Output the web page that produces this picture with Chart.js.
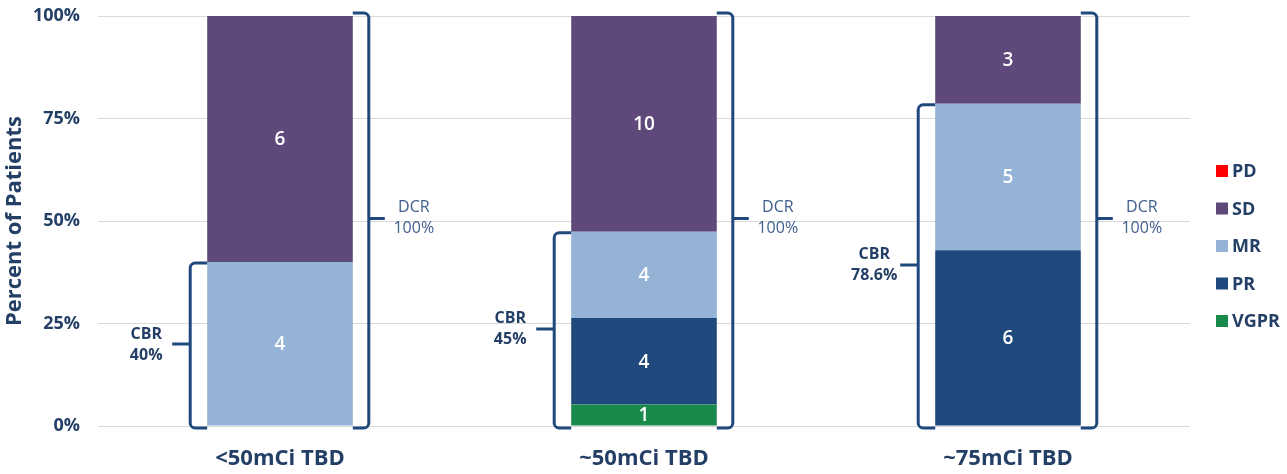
<!DOCTYPE html>
<html>
<head>
<meta charset="utf-8">
<script src="https://cdn.jsdelivr.net/npm/chart.js@4/dist/chart.umd.min.js"></script>
<style>
  html, body { margin: 0; padding: 0; background: #ffffff; }
  #c { display: block; }
</style>
</head>
<body>
<canvas id="c" width="1287" height="474"></canvas>
<script>
// Patient counts by response category for each dose group
const categories = ['<50mCi TBD', '~50mCi TBD', '~75mCi TBD'];
const vgpr = [0, 1, 0];
const pr   = [0, 4, 6];
const mr   = [4, 4, 5];
const sd   = [6, 10, 3];
const pd   = [0, 0, 0];

// Bracket annotations
const cbrText = ['40%', '45%', '78.6%'];
const dcrText = ['100%', '100%', '100%'];

// Percentage axis ticks
const yTicks = [0, 25, 50, 75, 100];

const totals = categories.map((_, i) => vgpr[i] + pr[i] + mr[i] + sd[i] + pd[i]);
const pct = arr => arr.map((v, i) => v / totals[i] * 100);

const INK = '#243f66';
const BRACE = '#1f497d';
const FONT = '"Open Sans", "DejaVu Sans", sans-serif';

const series = [
  { label: 'VGPR', counts: vgpr, color: '#1a8a4c' },
  { label: 'PR',   counts: pr,   color: '#1f497d' },
  { label: 'MR',   counts: mr,   color: '#95b3d7' },
  { label: 'SD',   counts: sd,   color: '#5f497a' },
  { label: 'PD',   counts: pd,   color: '#ff0000' }
];

// Count labels inside each segment
const segmentLabels = {
  id: 'segmentLabels',
  afterDatasetsDraw(chart) {
    const ctx = chart.ctx;
    ctx.save();
    ctx.fillStyle = '#ffffff';
    ctx.font = '600 19px ' + FONT;
    ctx.textAlign = 'center';
    ctx.textBaseline = 'middle';
    chart.data.datasets.forEach((ds, i) => {
      const meta = chart.getDatasetMeta(i);
      meta.data.forEach((el, j) => {
        const n = ds.counts[j];
        if (!n) return;
        ctx.fillText(String(n), el.x, (el.y + el.base) / 2 + 1);
      });
    });
    ctx.restore();
  }
};

function drawBrace(ctx, edgeX, lineX, tipX, y0, y1, midY) {
  const r = 5;
  const dir = Math.sign(edgeX - lineX);
  ctx.beginPath();
  ctx.moveTo(edgeX, y0);
  ctx.lineTo(lineX + dir * r, y0);
  ctx.arcTo(lineX, y0, lineX, y0 + r, r);
  ctx.lineTo(lineX, y1 - r);
  ctx.arcTo(lineX, y1, lineX + dir * r, y1, r);
  ctx.lineTo(edgeX, y1);
  ctx.moveTo(lineX, midY);
  ctx.lineTo(tipX, midY);
  ctx.stroke();
}

// CBR / DCR brackets beside each bar
const brackets = {
  id: 'brackets',
  afterDatasetsDraw(chart) {
    const ctx = chart.ctx;
    const y = chart.scales.y;
    const meta = chart.getDatasetMeta(0);
    ctx.save();
    ctx.strokeStyle = BRACE;
    ctx.lineWidth = 3;
    ctx.lineCap = 'butt';
    ctx.lineJoin = 'round';
    meta.data.forEach((el, j) => {
      const left = el.x - el.width / 2;
      const right = el.x + el.width / 2;
      const bottom = y.getPixelForValue(0);
      // clinical benefit: VGPR + PR + MR
      const cbrTop = y.getPixelForValue((vgpr[j] + pr[j] + mr[j]) / totals[j] * 100);
      const cbrMid = (cbrTop + bottom) / 2;
      const cLine = left - 17, cTip = left - 35;
      drawBrace(ctx, left, cLine, cTip, cbrTop + 1, bottom + 2, cbrMid);
      // disease control: everything except PD
      const dcrTop = y.getPixelForValue((totals[j] - pd[j]) / totals[j] * 100);
      const dTop = dcrTop - 3, dBot = bottom + 2;
      const dMid = (dTop + dBot) / 2 - 2;
      const dLine = right + 16, dTip = right + 32;
      drawBrace(ctx, right, dLine, dTip, dTop, dBot, dMid);

      ctx.textAlign = 'center';
      ctx.textBaseline = 'middle';
      ctx.fillStyle = INK;
      ctx.font = 'bold 16px ' + FONT;
      ctx.fillText('CBR', cTip - 26, cbrMid - 10);
      ctx.fillText(cbrText[j], cTip - 26, cbrMid + 11);
      ctx.fillStyle = '#3d5f8e';
      ctx.font = '16px ' + FONT;
      ctx.fillText('DCR', dTip + 29, dMid - 11);
      ctx.fillText(dcrText[j], dTip + 29, dMid + 10);
    });
    ctx.restore();
  }
};

// Legend at the right, top category first
const sideLegend = {
  id: 'sideLegend',
  afterDraw(chart) {
    const ctx = chart.ctx;
    ctx.save();
    ctx.font = 'bold 18px ' + FONT;
    ctx.textBaseline = 'middle';
    ctx.textAlign = 'left';
    const items = chart.data.datasets.slice().reverse();
    items.forEach((ds, k) => {
      const cy = 171 + k * 37.5;
      ctx.fillStyle = ds.backgroundColor;
      ctx.fillRect(1216, cy - 6, 12, 12);
      ctx.fillStyle = INK;
      ctx.fillText(ds.label, 1232, cy + 1);
    });
    ctx.restore();
  }
};

new Chart(document.getElementById('c'), {
  type: 'bar',
  data: {
    labels: categories,
    datasets: series.map(s => ({
      label: s.label,
      counts: s.counts,
      data: pct(s.counts),
      backgroundColor: s.color,
      borderWidth: 0,
      categoryPercentage: 1,
      barPercentage: 0.4
    }))
  },
  options: {
    responsive: false,
    animation: false,
    devicePixelRatio: 1,
    layout: { padding: { top: 16, right: 97, left: 0, bottom: 0 } },
    plugins: {
      legend: { display: false },
      tooltip: { enabled: false }
    },
    scales: {
      x: {
        stacked: true,
        grid: { display: false },
        border: { display: false },
        ticks: { color: INK, font: { family: FONT, size: 22, weight: 'bold' }, padding: 12 },
        afterFit: s => { s.height = 48; }
      },
      y: {
        stacked: true,
        min: 0,
        max: 100,
        afterBuildTicks: s => { s.ticks = yTicks.map(v => ({ value: v })); },
        ticks: {
          color: INK,
          font: { family: FONT, size: 18, weight: 'bold' },
          padding: 18,
          callback: v => v + '%'
        },
        grid: { color: '#d9d9d9', lineWidth: 1, drawTicks: false },
        border: { display: false },
        title: {
          display: true,
          text: 'Percent of Patients',
          color: INK,
          font: { family: FONT, size: 22, weight: 'bold' },
          padding: { top: 2, bottom: 0 }
        },
        afterFit: s => { s.width = 98; s.paddingTop = 0; s.paddingBottom = 0; }
      }
    }
  },
  plugins: [segmentLabels, brackets, sideLegend]
});
</script>
</body>
</html>
